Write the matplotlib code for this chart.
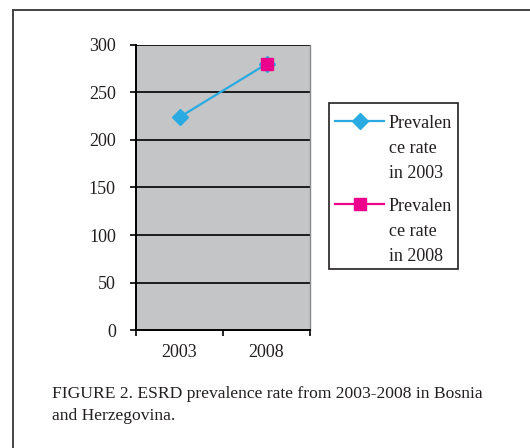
import numpy as np
import matplotlib
matplotlib.use("Agg")
import matplotlib.pyplot as plt
from matplotlib.lines import Line2D
from matplotlib.patches import Rectangle

categories = ["2003", "2008"]
series_2003 = [224, 280]
series_2008 = [np.nan, 280]
labels = ["Prevalen\nce rate\nin 2003", "Prevalen\nce rate\nin 2008"]
yticks = [0, 50, 100, 150, 200, 250, 300]
caption = "FIGURE 2. ESRD prevalence rate from 2003-2008 in Bosnia\nand Herzegovina."

plt.rcParams['font.family'] = ['Liberation Serif', 'DejaVu Serif']
TXT = "#231f20"
FS = 13

W, H = 530, 448
fig = plt.figure(figsize=(W / 100, H / 100), dpi=100)
ax = fig.add_axes([136 / W, 1 - 330 / H, (310 - 136) / W, (330 - 45) / H])
ax.set_facecolor("#c4c5c7")

x = np.arange(len(categories))
l1, = ax.plot(x, series_2003, color="#29abe2", lw=1.6, marker="D", ms=8,
              label=labels[0], zorder=3)
l2, = ax.plot(x, series_2008, color="#ec008c", lw=1.6, marker="s", ms=8.5,
              label=labels[1], zorder=4)

ax.set_xlim(-0.5, 1.5)
ax.set_ylim(0, 300)
ax.set_yticks(yticks)
ax.set_yticklabels([str(v) for v in yticks], fontsize=FS, color=TXT)
for v in yticks[1:]:
    ax.axhline(v, color="black", lw=1.2, zorder=1)

ax.set_xticks([-0.5, 0.5, 1.5])
ax.set_xticklabels([])
ax.set_xticks(x, minor=True)
ax.set_xticklabels(categories, minor=True, fontsize=FS, color=TXT)
ax.tick_params(axis="x", which="minor", length=0, pad=10)
ax.tick_params(axis="x", which="major", length=4.5, width=1.2, direction="out")
ax.tick_params(axis="y", length=4.5, width=1.2, direction="out", pad=10)

ax.spines["left"].set_linewidth(1.4)
ax.spines["bottom"].set_linewidth(1.4)
ax.spines["top"].set_visible(False)
ax.spines["right"].set_color("#8a8a8a")
ax.spines["right"].set_linewidth(1.0)

# legend drawn as a box with sample handles and wrapped labels
def fx(px):
    return px / W

def fy(py):
    return 1 - py / H

fig.add_artist(Rectangle((fx(329), fy(269)), fx(458) - fx(329), fy(103) - fy(269),
                         transform=fig.transFigure, facecolor="white",
                         edgecolor="#231f20", lw=1.2))
entry_y = [121, 204]
for line, lab, ey in zip([l1, l2], labels, entry_y):
    fig.add_artist(Line2D([fx(335), fx(384)], [fy(ey), fy(ey)], transform=fig.transFigure,
                          color=line.get_color(), lw=line.get_linewidth()))
    fig.add_artist(Line2D([fx(359.5)], [fy(ey)], transform=fig.transFigure,
                          color=line.get_color(), marker=line.get_marker(),
                          ms=line.get_markersize(), ls="none"))
    for i, part in enumerate(lab.split("\n")):
        fig.text(fx(389), fy(ey + 7 + 25 * i), part, fontsize=FS, color=TXT,
                 ha="left", va="baseline")

for i, part in enumerate(caption.split("\n")):
    fig.text(fx(52), fy(398 + 22 * i), part, fontsize=12.6, ha="left", va="baseline",
             color=TXT)

# outer frame (left and top)
fig.add_artist(Line2D([fx(13), fx(13)], [0, fy(10)], transform=fig.transFigure,
                      color="#444444", lw=1.4))
fig.add_artist(Line2D([fx(13), 1], [fy(10), fy(10)], transform=fig.transFigure,
                      color="#444444", lw=1.4))

fig.savefig("out.png", dpi=100)
